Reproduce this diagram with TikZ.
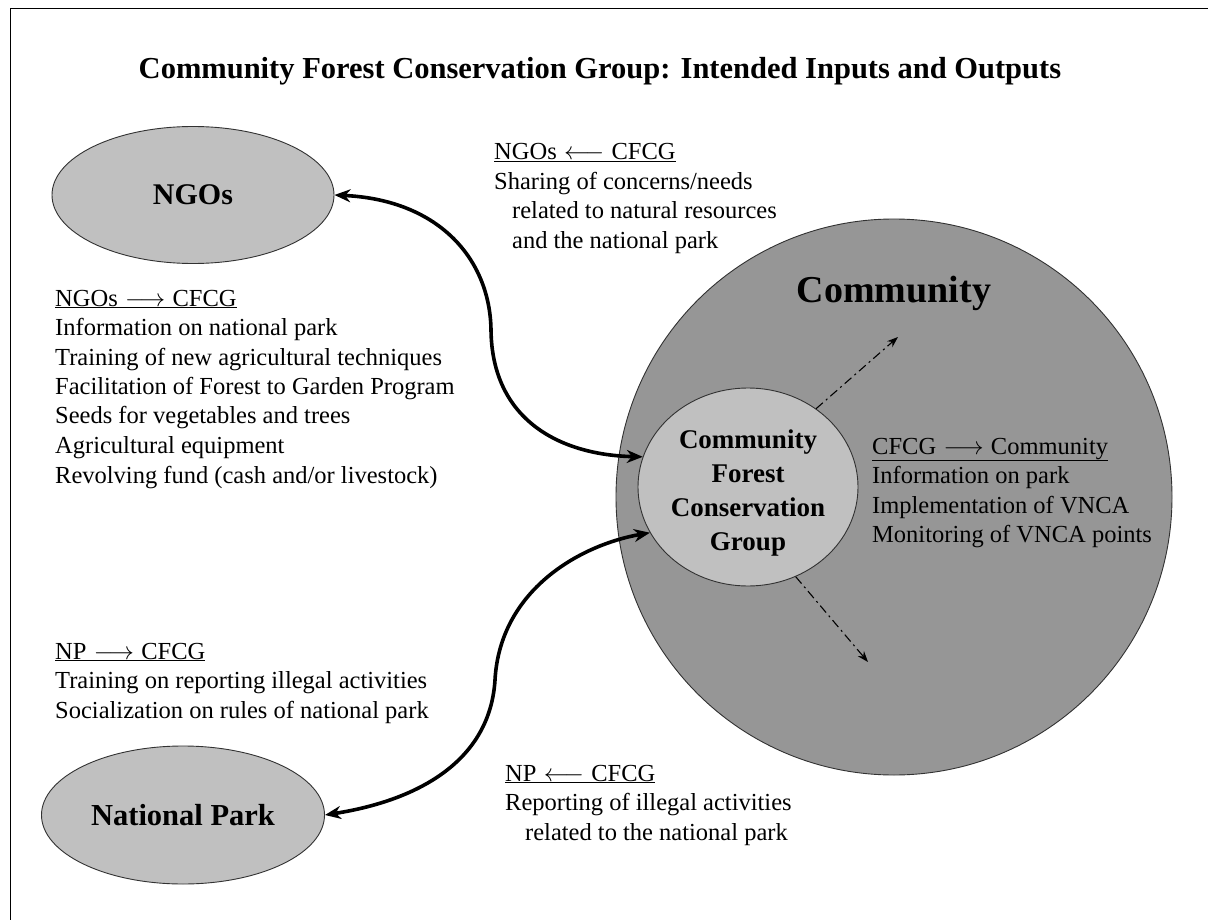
\documentclass[tikz,border=0pt]{standalone}
\usepackage{fontspec}
\setmainfont{Liberation Serif}
\usetikzlibrary{shapes.geometric,arrows.meta}
\definecolor{lightfill}{RGB}{192,192,192}
\definecolor{darkfill}{RGB}{150,150,150}
\definecolor{edgegray}{RGB}{50,50,50}
\newcommand{\myra}{\hspace{0.3em}$\longrightarrow$\hspace{0.3em}}
\newcommand{\myla}{\hspace{0.3em}$\longleftarrow$\hspace{0.3em}}
\begin{document}
\begin{tikzpicture}[x=1pt,y=-1pt,
  blob/.style={ellipse, draw=edgegray, line width=0.9pt, fill=lightfill, inner sep=0pt},
  blk/.style={anchor=base west, inner sep=0pt, font=\fontsize{24.5}{29.5}\selectfont},
  bigarr/.style={line width=3.6pt, {Stealth[length=16pt,width=13pt]}-{Stealth[length=16pt,width=13pt]}},
  dasharr/.style={line width=1.1pt, dash pattern=on 9pt off 4pt on 2pt off 4pt, -{Stealth[length=11pt,width=8pt]}}
]
\useasboundingbox (0,0) rectangle (1208,920);
\fill[white] (0,0) rectangle (1208,920);
\draw[line width=1.6pt] (10.5,920) -- (10.5,8.5) -- (1208,8.5);

\node[font=\bfseries\fontsize{30.5}{36}\selectfont] (title) at (600,71)
  {Community Forest Conservation Group: Intended Inputs and Outputs};

% Community circle
\node[circle, draw=edgegray, line width=0.9pt, fill=darkfill, minimum size=556pt, inner sep=0pt] (com) at (894,497) {};
\node[font=\bfseries\fontsize{38}{44}\selectfont] (comlabel) at (894,293) {Community};

% CFCG ellipse
\node[blob, minimum width=220pt, minimum height=198pt] (cfcg) at (748,487) {};
\node[align=center, inner sep=0pt, font=\bfseries\fontsize{27}{34}\selectfont] (cfcgtext) at (748,493)
  {Community\\Forest\\Conservation\\Group};

% NGOs and National Park
\node[blob, minimum width=282pt, minimum height=137pt, font=\bfseries\fontsize{30}{36}\selectfont] (ngo) at (193,195) {NGOs};
\node[blob, minimum width=283pt, minimum height=138pt, font=\bfseries\fontsize{30.5}{36}\selectfont] (np) at (183,815) {National Park};

% text blocks
\node[blk] (ngoin) at (55,306) {\begin{tabular}[t]{@{}l@{}}
\underline{NGOs\myra CFCG}\\
Information on national park\\
Training of new agricultural techniques\\
Facilitation of Forest to Garden Program\\
Seeds for vegetables and trees\\
Agricultural equipment\\
Revolving fund (cash and/or livestock)
\end{tabular}};

\node[blk] (ngoout) at (494,160) {\begin{tabular}[t]{@{}l@{}}
\underline{NGOs\myla CFCG}\\
Sharing of concerns/needs\\
\hspace*{18pt}related to natural resources\\
\hspace*{18pt}and the national park
\end{tabular}};

\node[blk] (npin) at (55,659) {\begin{tabular}[t]{@{}l@{}}
\underline{NP\myra CFCG}\\
Training on reporting illegal activities\\
Socialization on rules of national park
\end{tabular}};

\node[blk] (npout) at (505,781) {\begin{tabular}[t]{@{}l@{}}
\underline{NP\myla CFCG}\\
Reporting of illegal activities\\
\hspace*{20pt}related to the national park
\end{tabular}};

\node[blk] (comout) at (872,454) {\begin{tabular}[t]{@{}l@{}}
\underline{CFCG\myra Community}\\
Information on park\\
Implementation of VNCA\\
Monitoring of VNCA points
\end{tabular}};

% thick double arrows
\coordinate (a1) at (491,330);
\coordinate (a2) at (495,680);
\draw[bigarr] (ngo.east) .. controls (440,200) and (490,260) .. (a1)
  .. controls (492,420) and (560,455) .. (cfcg.164);
\draw[bigarr] (np.east) .. controls (420,800) and (490,760) .. (a2)
  .. controls (500,590) and (580,545) .. (cfcg.205);

% dash-dot arrows
\coordinate (d1) at (898,337);
\coordinate (d2) at (868,662);
\draw[dasharr] (cfcg.49) -- (d1);
\draw[dasharr] (cfcg.-62) -- (d2);
\end{tikzpicture}
\end{document}
